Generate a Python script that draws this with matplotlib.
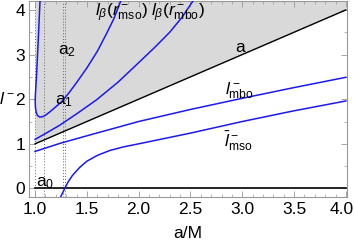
import matplotlib
matplotlib.use("Agg")
import matplotlib.pyplot as plt
import matplotlib.transforms as mtransforms
import numpy as np
from matplotlib.ticker import MultipleLocator

plt.rcParams.update(
    {
        "font.family": ["Liberation Sans", "DejaVu Sans"],
        "mathtext.fontset": "custom",
        "mathtext.rm": "Liberation Sans",
        "mathtext.it": "Liberation Sans:italic",
        "mathtext.bf": "Liberation Sans:bold",
        "font.size": 12,
    }
)

# spin range and the line l = a
a_line = [1.0, 4.0]

# l_beta(r_mbo) curve (inside shaded region)
a_beta_mbo = [1.0, 1.1, 1.24, 1.4, 1.59, 1.8, 2.01, 2.15, 2.3, 2.42, 2.53]
l_beta_mbo = [1.10, 1.23, 1.42, 1.67, 1.98, 2.38, 2.84, 3.15, 3.50, 3.84, 4.22]

# l_beta(r_mso) curve (loop near a = 1)
a_beta_mso = [1.048, 1.036, 1.024, 1.012, 1.003, 1.001, 1.004, 1.012, 1.025,
              1.045, 1.07, 1.10, 1.145, 1.19, 1.23, 1.27, 1.33, 1.40, 1.50,
              1.60, 1.69, 1.76, 1.83]
l_beta_mso = [4.22, 3.6, 3.0, 2.45, 2.1, 1.95, 1.8, 1.69, 1.63,
              1.60, 1.605, 1.64, 1.72, 1.81, 1.89, 1.98, 2.15, 2.37, 2.70,
              3.07, 3.47, 3.80, 4.22]

# l_mbo^-
a_mbo = [1.0, 1.24, 1.5, 2.0, 2.5, 3.0, 3.5, 4.0]
l_mbo = [0.83, 1.01, 1.18, 1.50, 1.77, 2.02, 2.26, 2.49]

# l_mso^-
a_mso = [1.24, 1.27, 1.29, 1.32, 1.36, 1.43, 1.5, 1.6, 1.72, 1.85, 2.0,
         2.25, 2.5, 3.0, 3.5, 4.0]
l_mso = [-0.22, -0.08, 0.02, 0.15, 0.29, 0.47, 0.61, 0.74, 0.85, 0.93, 1.0,
         1.12, 1.24, 1.50, 1.74, 1.96]

# special spins a0, a1, a2 (and a = 1)
a_marks = [1.0, 1.085, 1.268, 1.29]

fig = plt.figure(figsize=(3.54, 2.44), dpi=100)
ax = fig.add_axes([0.083, 0.191, 0.897, 0.805])

ax.fill_between(a_line, a_line, [4.5, 4.5], color="#d9d9d9", lw=0, zorder=0)
ax.plot(a_line, a_line, color="black", lw=1.0, zorder=3)
ax.plot(a_line, [0, 0], color="black", lw=1.2, zorder=3)

for am in a_marks:
    ax.axvline(am, color="#666666", lw=0.7, ls=(0, (1, 2)), zorder=1)

blue = "#1a1af0"
ax.plot(a_beta_mbo, l_beta_mbo, color=blue, lw=1.1, zorder=4)
ax.plot(a_beta_mso, l_beta_mso, color=blue, lw=1.1, zorder=4)
ax.plot(a_mbo, l_mbo, color=blue, lw=1.1, zorder=4)
ax.plot(a_mso, l_mso, color=blue, lw=1.1, zorder=4)

fs = 12.5
ax.text(1.01, 0.05, r"a$_0$", fontsize=fs, zorder=5)
ax.text(1.19, 1.89, r"a$_1$", fontsize=fs, zorder=5)
ax.text(1.225, 3.01, r"a$_2$", fontsize=fs, zorder=5)
ax.text(2.93, 3.06, "a", fontsize=fs, zorder=5)
ax.text(1.58, 3.86, r"$l_\beta(r^-_{\rm mso})\;l_\beta(r^-_{\rm mbo})$",
        fontsize=fs, zorder=5)
ax.text(2.83, 2.11, r"$l^-_{\rm mbo}$", fontsize=fs, zorder=5)
ax.text(2.82, 0.93, r"$\bar{l}^-_{\rm mso}$", fontsize=fs, zorder=5)

ax.set_xlim(0.945, 4.01)
ax.set_ylim(-0.2, 4.2)
ax.xaxis.set_major_locator(MultipleLocator(0.5))
ax.xaxis.set_minor_locator(MultipleLocator(0.1))
ax.yaxis.set_major_locator(MultipleLocator(1))
ax.yaxis.set_minor_locator(MultipleLocator(0.5))
ax.xaxis.set_major_formatter(plt.FuncFormatter(lambda v, _: f"{v:.1f}"))
ax.tick_params(which="both", direction="in", top=True, right=True,
               color="#999999", labelsize=fs, pad=3)
ax.tick_params(which="major", length=4, width=0.6)
ax.tick_params(which="minor", length=2, width=0.5)
for s in ax.spines.values():
    s.set_color("#999999")
    s.set_linewidth(0.8)

ax.set_xlabel("a/M", fontsize=fs, labelpad=7)
ax.set_ylabel(r"$l^-$", fontsize=fs, rotation=0, labelpad=6, va="center")
ax.yaxis.set_label_coords(-0.07, 0.5)

# keep the "4.0" tick label inside the canvas
fig.canvas.draw()
shift = mtransforms.ScaledTranslation(-4 / 100, 0, fig.dpi_scale_trans)
for lab in ax.get_xticklabels():
    if lab.get_text() == "4.0":
        lab.set_transform(lab.get_transform() + shift)

fig.savefig("out.png", dpi=100)
